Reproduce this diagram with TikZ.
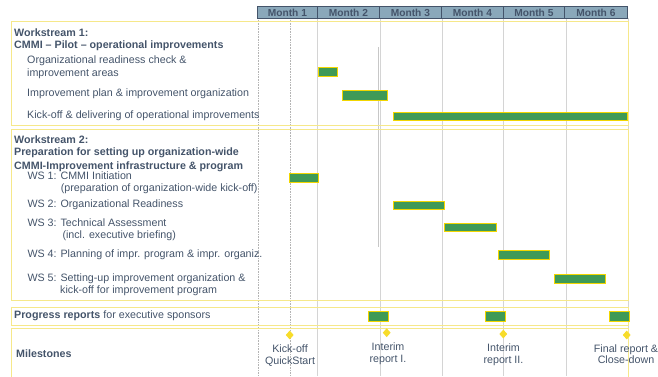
\documentclass[tikz,border=0pt]{standalone}
\usepackage{fontspec}
\setmainfont{Liberation Sans}
\usetikzlibrary{shapes.geometric}
\definecolor{tc}{HTML}{44546A}
\definecolor{hdrfill}{HTML}{8AA8BA}
\definecolor{boxyel}{HTML}{F6E88A}
\definecolor{bargreen}{HTML}{3F9A57}
\definecolor{baryel}{HTML}{F2D600}
\definecolor{msyel}{HTML}{F7DC2A}
\definecolor{vgrid}{HTML}{D4D4D4}
\tikzset{
  txt/.style={anchor=base west, inner sep=0pt, text=tc, font=\fontsize{10.7}{12}\selectfont},
  btxt/.style={txt, font=\fontsize{10.7}{12}\selectfont\bfseries},
  ctxt/.style={txt, anchor=base},
  month/.style={draw=tc, fill=hdrfill, line width=0.8pt, text=tc, font=\fontsize{10.2}{12}\selectfont\bfseries, inner sep=0pt, anchor=north west, minimum height=12pt},
  sect/.style={draw=boxyel, line width=1pt},
  bar/.style={draw=baryel, fill=bargreen, line width=1pt},
  gridsolid/.style={draw=vgrid, line width=0.9pt},
  griddot/.style={draw=vgrid!85!black, line width=0.6pt, densely dotted},
  mstone/.style={diamond, fill=msyel, inner sep=0pt, minimum width=8pt, minimum height=9pt}
}
\begin{document}
\begin{tikzpicture}[x=1pt,y=-1pt]
\useasboundingbox (0,0) rectangle (658,376);
% grid lines
\draw[griddot] (258,18) -- (258,376);
\draw[griddot] (290,18) -- (290,376);
\foreach \gx in {317.5,380,442,503.5,566,628} {\draw[gridsolid] (\gx,18) -- (\gx,376);}
\draw[draw=black!22, line width=1.2pt] (378.5,47) -- (378.5,247);
% month header
\node[month, minimum width=60pt] (m1) at (257,6) {Month 1};
\node[month, minimum width=62pt] (m2) at (317,6) {Month 2};
\node[month, minimum width=62pt] (m3) at (379,6) {Month 3};
\node[month, minimum width=62pt] (m4) at (441,6) {Month 4};
\node[month, minimum width=61pt] (m5) at (503,6) {Month 5};
\node[month, minimum width=63pt] (m6) at (564,6) {Month 6};
% section boxes
\draw[sect] (11,21.5) rectangle (628,125);
\draw[sect] (11,129) rectangle (628,300);
\draw[sect] (11,307) rectangle (628,325);
\draw[sect] (11,328.5) rectangle (628,380);
% workstream 1
\node[btxt] (w1a) at (14,36) {Workstream 1:};
\node[btxt] (w1b) at (14,48.5) {CMMI – Pilot – operational improvements};
\node[txt] (w1c) at (27,63.5) {Organizational readiness check \&};
\node[txt] (w1d) at (27,76) {improvement areas};
\node[txt] (w1e) at (27,96) {Improvement plan \& improvement organization};
\node[txt] (w1f) at (27,118.3) {Kick-off \& delivering of operational improvements};
\draw[bar] (318.3,67.5) rectangle (337.7,76.3);
\draw[bar] (342.3,90.8) rectangle (387,100);
\draw[bar] (393.3,112.3) rectangle (627.7,120.3);
% workstream 2
\node[btxt] (w2a) at (14,143.5) {Workstream 2:};
\node[btxt] (w2b) at (14,155.5) {Preparation for setting up organization-wide};
\node[btxt] (w2c) at (14,169) {CMMI-Improvement infrastructure \& program};
\node[txt] (s1a) at (27.3,179.5) {WS 1: CMMI Initiation};
\node[txt] (s1b) at (60.7,191.5) {(preparation of organization-wide kick-off)};
\node[txt] (s2a) at (27.3,207.5) {WS 2: Organizational Readiness};
\node[txt] (s3a) at (27.3,226) {WS 3: Technical Assessment};
\node[txt] (s3b) at (62.3,238.5) {(incl. executive briefing)};
\node[txt] (s4a) at (27.3,257) {WS 4: Planning of impr. program \& impr. organiz.};
\node[txt] (s5a) at (27.3,281.5) {WS 5: Setting-up improvement organization \&};
\node[txt] (s5b) at (60,293.5) {kick-off for improvement program};
\draw[bar] (289.7,173.3) rectangle (318,182.3);
\draw[bar] (393.3,201) rectangle (444,209.7);
\draw[bar] (444.3,223) rectangle (496,231.7);
\draw[bar] (498.7,250.3) rectangle (549.7,259);
\draw[bar] (554.7,274.3) rectangle (605.7,283);
% progress reports
\node[txt] (pr) at (14,318) {\textbf{Progress reports} for executive sponsors};
\draw[bar] (368.7,311) rectangle (388,321);
\draw[bar] (485.3,311) rectangle (505,321);
\draw[bar] (609.3,311) rectangle (629,321);
% milestones
\node[btxt] (ms) at (16,357.5) {Milestones};
\node[mstone] (d1) at (289.7,335) {};
\node[mstone] (d2) at (386.7,332.7) {};
\node[mstone] (d3) at (503.3,334) {};
\node[mstone] (d4) at (626.7,335) {};
\node[ctxt] (l1a) at (290,352) {Kick-off};
\node[ctxt] (l1b) at (290,364.8) {QuickStart};
\node[ctxt] (l2a) at (388,350.5) {Interim};
\node[ctxt] (l2b) at (388,362.8) {report I.};
\node[ctxt] (l3a) at (503.5,351.5) {Interim};
\node[ctxt] (l3b) at (503.5,363.8) {report II.};
\node[ctxt] (l4a) at (626,352) {Final report \&};
\node[ctxt] (l4b) at (626,363.8) {Close-down};
\end{tikzpicture}
\end{document}
